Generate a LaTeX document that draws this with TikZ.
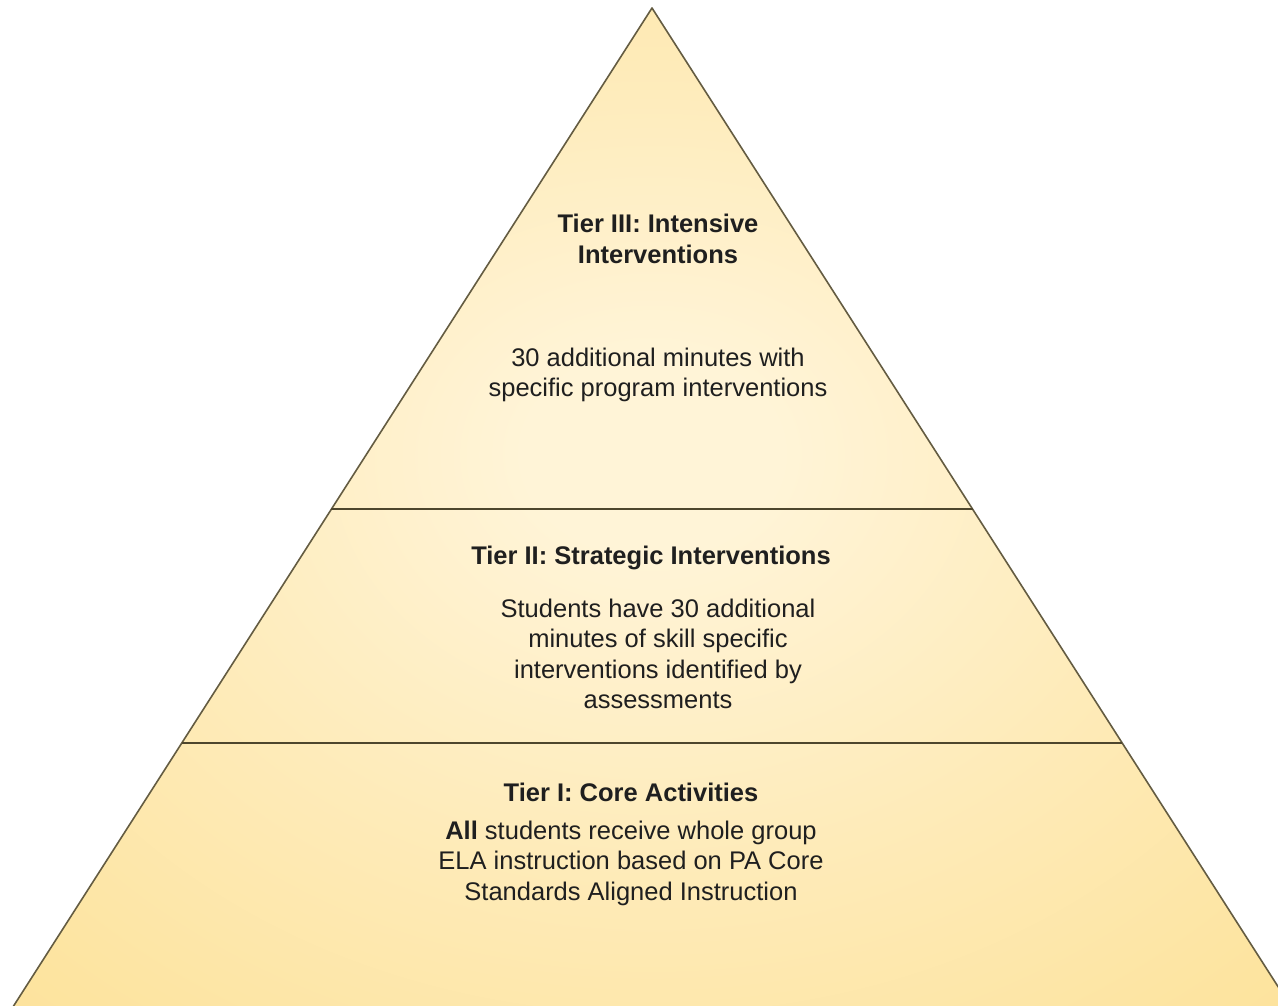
\documentclass[tikz,border=0pt]{standalone}
\usepackage{fontspec}
\setmainfont{Liberation Sans}
\usepackage{tikz}

\definecolor{pyrlight}{RGB}{255,244,215}
\definecolor{pyrsoft}{RGB}{254,235,185}
\definecolor{pyrmid}{RGB}{253,228,160}
\definecolor{pyrdeep}{RGB}{252,222,145}
\definecolor{pyrgold}{RGB}{250,213,110}
\definecolor{pyredge}{RGB}{100,92,66}
\definecolor{tierline}{RGB}{78,70,45}
\pgfdeclareradialshading{pyrshade}{\pgfpoint{0bp}{3bp}}{%
  color(0bp)=(pyrlight); color(5bp)=(pyrlight); color(20bp)=(pyrsoft);
  color(34bp)=(pyrmid); color(47bp)=(pyrdeep); color(70bp)=(pyrgold)}

\begin{document}
\begin{tikzpicture}[x=1pt,y=-1pt,
    tiertext/.style={align=center,inner sep=0pt,text=black!88,
      font=\fontsize{25.5}{30.5}\selectfont}]

    % `tiertitle' is the bold heading of a tier.
    % `tierbody' is the text under it.
    \tikzstyle{tiertitle} = [tiertext,font=\fontsize{25.5}{30.5}\selectfont\bfseries]
    \tikzstyle{tierbody} = [tiertext]
    %
    \clip (0,0) rectangle (1278,1006);

    % Corners of the pyramid.
    \coordinate (apex) at (652,8);
    \coordinate (baseL) at (11,1010);
    \coordinate (baseR) at (1293,1010);
    \coordinate (cut2L) at (331,509);
    \coordinate (cut2R) at (973,509);
    \coordinate (cut1L) at (182,743);
    \coordinate (cut1R) at (1122,743);

    \shadedraw[shading=pyrshade,draw=pyredge,line width=1.6pt,line join=round]
      (apex) -- (baseR) -- (baseL) -- cycle;
    \draw[tierline,line width=1.8pt] (cut2L) -- (cut2R) (cut1L) -- (cut1R);

    % Tier III.
    \node[tiertitle] (T3) at (658,239) {Tier III: Intensive\\Interventions};
    \node[tierbody] (B3) at (658,375) {30 additional minutes with\\specific program interventions};

    % Tier II.
    \node[tiertitle] (T2) at (651,558) {Tier II: Strategic Interventions};
    \node[tierbody] (B2) at (658,654) {Students have 30 additional\\minutes of skill specific\\interventions identified by\\assessments};

    % Tier I.
    \node[tiertitle] (T1) at (631,792) {Tier I: Core Activities};
    \node[tierbody] (B1) at (631,863) {\textbf{All} students receive whole group\\ELA instruction based on PA Core\\Standards Aligned Instruction};
    %
\end{tikzpicture}
\end{document}
